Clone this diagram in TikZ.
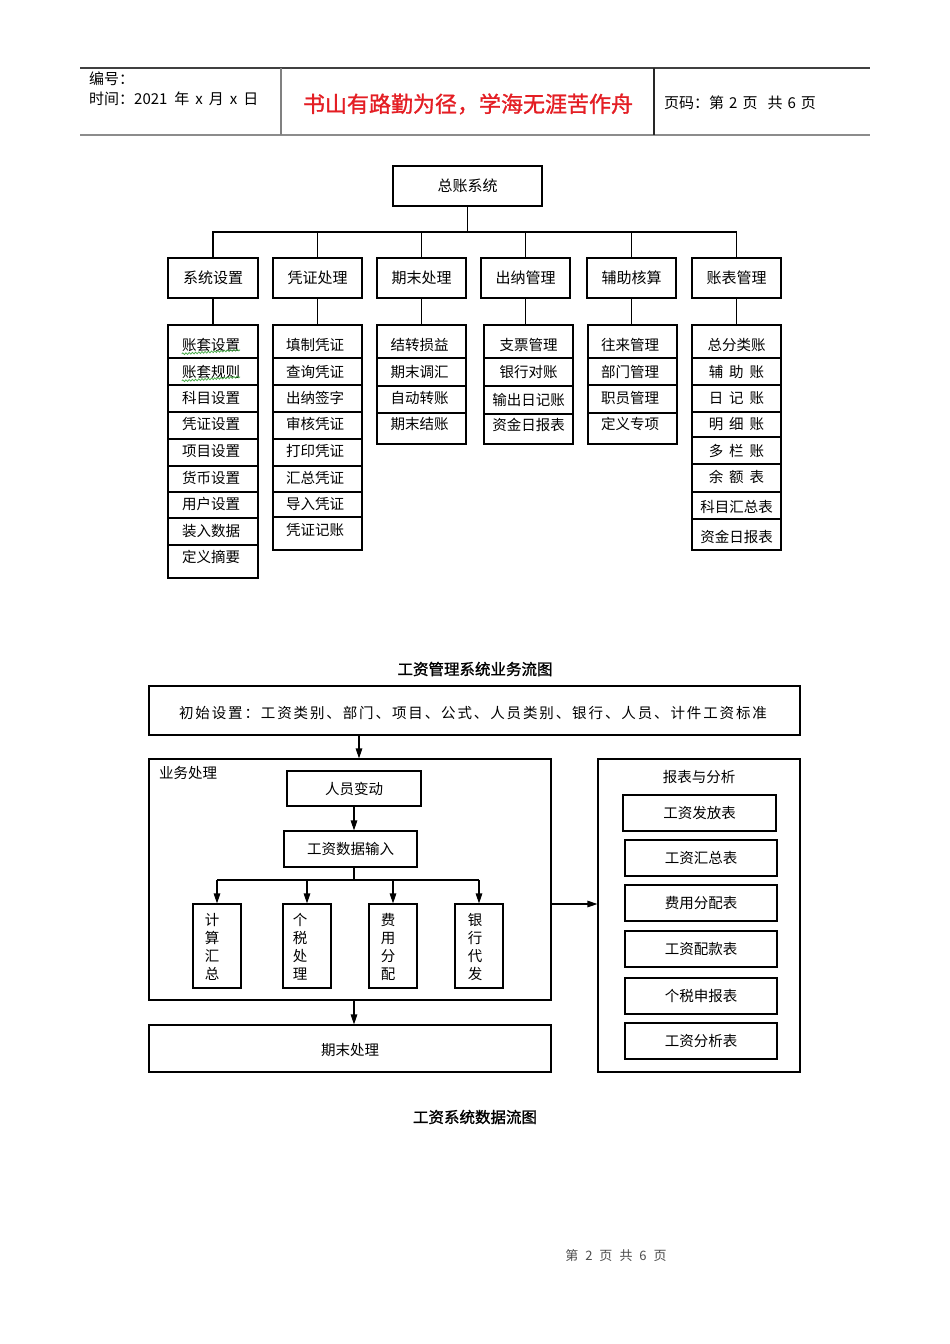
\documentclass[tikz,border=0pt]{standalone}
\usepackage{fontspec}
\setmainfont{Noto Sans CJK SC}
\newfontfamily\boldcjk[FakeBold=1.2]{Noto Sans CJK SC}
\newfontfamily\widecjk[LetterSpace=13]{Noto Sans CJK SC}
\usetikzlibrary{arrows.meta,decorations.pathmorphing}
\definecolor{redtxt}{RGB}{228,30,36}
\definecolor{squig}{RGB}{70,170,70}
\tikzset{
  box/.style={draw, line width=1.1pt, inner sep=0pt, font=\fontsize{15}{18}\selectfont},
  ln/.style={line width=1.1pt},
  arr/.style={line width=1.1pt, -{Triangle[length=10pt,width=6.5pt]}},
  txt/.style={inner sep=0pt, font=\fontsize{14.5}{18}\selectfont},
  ttl/.style={inner sep=0pt, font=\boldcjk\fontsize{15.5}{18}\selectfont},
  sep/.style={line width=1.1pt},
  wavy/.style={squig, line width=0.7pt, decorate, decoration={snake, amplitude=0.9pt, segment length=3.2pt}},
}
\begin{document}
\begin{tikzpicture}[x=1pt,y=-1pt]
\useasboundingbox (0,0) rectangle (950,1344);
\fill[white] (0,0) rectangle (950,1344);

% ---------- header ----------
\draw[line width=1.3pt, black!75] (80,68) -- (870,68);
\draw[line width=2pt, black!45] (80,135) -- (870,135);
\draw[line width=1.2pt, black!50] (281,68) -- (281,135);
\draw[line width=1.2pt, black!85] (654,68) -- (654,135);
\node[txt, anchor=west, font=\fontsize{15}{18}\selectfont] (hno) at (89,79) {编号：};
\node[txt, anchor=west, font=\fontsize{15}{18}\selectfont] (htime) at (89,99) {时间：2021\hspace{7pt}年\hspace{6pt}x\hspace{6pt}月\hspace{6pt}x\hspace{6pt}日};
\node[inner sep=0pt, text=redtxt, font=\boldcjk\fontsize{22}{25}\selectfont] (hmotto) at (468,104) {书山有路勤为径，学海无涯苦作舟};
\node[txt, anchor=west, font=\fontsize{15}{18}\selectfont] (hpage) at (664,103) {页码：第\hspace{5pt}2\hspace{5pt}页\hspace{10pt}共\hspace{5pt}6\hspace{5pt}页};

% ---------- ledger tree ----------
\node[box, minimum width=149pt, minimum height=40pt] (root) at (467.5,186) {总账系统};
\node[box, minimum width=90pt, minimum height=40pt] (la) at (213,278) {系统设置};
\node[box, minimum width=89pt, minimum height=40pt] (lb) at (317.5,278) {凭证处理};
\node[box, minimum width=89pt, minimum height=40pt] (lc) at (421.5,278) {期末处理};
\node[box, minimum width=89pt, minimum height=40pt] (ld) at (525.5,278) {出纳管理};
\node[box, minimum width=89pt, minimum height=40pt] (le) at (631.5,278) {辅助核算};
\node[box, minimum width=89pt, minimum height=40pt] (lf) at (736.5,278) {账表管理};
\coordinate (bus) at (467.5,232);
\draw[ln] (root.south) -- (bus);
\draw[ln] (la.north) |- (bus) -| (lf.north);
\foreach \n in {lb,lc,ld,le} \draw[ln] (\n.north) -- (\n.north |- bus);

% list columns
\node[box, minimum width=90pt, minimum height=253pt] (ca) at (213,451.5) {};
\node[box, minimum width=89pt, minimum height=225pt] (cb) at (317.5,437.5) {};
\node[box, minimum width=89pt, minimum height=119pt] (cc) at (421.5,384.5) {};
\node[box, minimum width=89pt, minimum height=119pt] (cd) at (528.5,384.5) {};
\node[box, minimum width=89pt, minimum height=119pt] (ce) at (632.5,384.5) {};
\node[box, minimum width=89pt, minimum height=225pt] (cf) at (736.5,437.5) {};
\foreach \u/\l in {la/ca,lb/cb,lc/cc,ld/cd,le/ce,lf/cf}
  \draw[ln] (\u.south) -- (\u.south |- \l.north);

\foreach \y in {358,385,412,439,466,492,518,545} \draw[sep] (ca.west |- 0,\y) -- (ca.east |- 0,\y);
\foreach \y in {358,385,412,439,466,492,517} \draw[sep] (cb.west |- 0,\y) -- (cb.east |- 0,\y);
\foreach \y in {358,386,413} \draw[sep] (cc.west |- 0,\y) -- (cc.east |- 0,\y);
\foreach \y in {358,386,414} \draw[sep] (cd.west |- 0,\y) -- (cd.east |- 0,\y);
\foreach \y in {358,385,413} \draw[sep] (ce.west |- 0,\y) -- (ce.east |- 0,\y);
\foreach \y in {358,385,412,437,464,492,519} \draw[sep] (cf.west |- 0,\y) -- (cf.east |- 0,\y);

\foreach \t/\y [count=\i] in {账套设置/345,账套规则/372,科目设置/398,凭证设置/424,项目设置/451,货币设置/478,用户设置/504,装入数据/531,定义摘要/557}
  \node[txt] (ta\i) at (211,\y) {\t};
\foreach \t/\y [count=\i] in {填制凭证/345,查询凭证/372,出纳签字/398,审核凭证/424,打印凭证/451,汇总凭证/478,导入凭证/504,凭证记账/530}
  \node[txt] (tb\i) at (315,\y) {\t};
\foreach \t/\y [count=\i] in {结转损益/345,期末调汇/372,自动转账/398,期末结账/424}
  \node[txt] (tc\i) at (419.5,\y) {\t};
\foreach \t/\y [count=\i] in {支票管理/345,银行对账/372,输出日记账/400,资金日报表/425}
  \node[txt] (td\i) at (528.5,\y) {\t};
\foreach \t/\y [count=\i] in {往来管理/345,部门管理/372,职员管理/398,定义专项/424}
  \node[txt] (te\i) at (630,\y) {\t};
\foreach \t/\y [count=\i] in {总分类账/345,辅\hspace{6pt}助\hspace{6pt}账/372,日\hspace{6pt}记\hspace{6pt}账/398,明\hspace{6pt}细\hspace{6pt}账/424,多\hspace{6pt}栏\hspace{6pt}账/451,余\hspace{6pt}额\hspace{6pt}表/477,科目汇总表/507,资金日报表/537}
  \node[txt] (tf\i) at (736.5,\y) {\t};
\draw[wavy] (ta1.south west) ++(0,2) -- ([yshift=2pt]ta1.south east);
\draw[wavy] (ta2.south west) ++(0,2) -- ([yshift=2pt]ta2.south east);

% ---------- wage flow ----------
\node[ttl] (title1) at (475,669) {工资管理系统业务流图};
\node[box, minimum width=651pt, minimum height=49pt] (init) at (474.5,710.5) {};
\node[inner sep=0pt, font=\widecjk\fontsize{14.5}{18}\selectfont] (initt) at (473,713) {初始设置：工资类别、部门、项目、公式、人员类别、银行、人员、计件工资标准};
\node[box, minimum width=402pt, minimum height=241pt] (biz) at (350,879.5) {};
\node[txt, anchor=west] (bizt) at (159,773) {业务处理};
\draw[arr] (init.south -| 359,0) -- (biz.north -| 359,0);

\node[box, minimum width=134pt, minimum height=35pt, font=\fontsize{14.5}{18}\selectfont] (ryd) at (354,788.5) {人员变动};
\node[box, minimum width=133pt, minimum height=36pt, font=\fontsize{14.5}{18}\selectfont] (gzsr) at (350.5,849) {工资数据输入};
\draw[arr] (ryd.south -| 354,0) -- (gzsr.north -| 354,0);

\node[box, minimum width=48pt, minimum height=84pt] (v1) at (217,946) {};
\node[box, minimum width=48pt, minimum height=84pt] (v2) at (307,946) {};
\node[box, minimum width=48pt, minimum height=84pt] (v3) at (393,946) {};
\node[box, minimum width=48pt, minimum height=84pt] (v4) at (479,946) {};
\node[txt, align=center] (v1t) at (212,947) {计\\算\\汇\\总};
\node[txt, align=center] (v2t) at (300,947) {个\\税\\处\\理};
\node[txt, align=center] (v3t) at (388,947) {费\\用\\分\\配};
\node[txt, align=center] (v4t) at (475,947) {银\\行\\代\\发};
\coordinate (vbus) at (354,880);
\draw[ln] (gzsr.south -| vbus) -- (vbus);
\draw[ln] (v1.north |- vbus) -- (v4.north |- vbus);
\foreach \v in {v1,v2,v3,v4} \draw[arr] (\v.north |- vbus) -- (\v.north);

\node[box, minimum width=402pt, minimum height=47pt] (qm) at (350,1048.5) {};
\node[txt] (qmt) at (350,1050) {期末处理};
\draw[arr] (biz.south -| 354,0) -- (qm.north -| 354,0);

\node[box, minimum width=202pt, minimum height=313pt] (rep) at (699,915.5) {};
\node[txt] (rept) at (699,777) {报表与分析};
\draw[arr] (biz.east |- 0,904) -- (rep.west |- 0,904);
\node[box, minimum width=153pt, minimum height=36pt, font=\fontsize{14.5}{18}\selectfont] (r1) at (699.5,813) {工资发放表};
\node[box, minimum width=152pt, minimum height=36pt, font=\fontsize{14.5}{18}\selectfont] (r2) at (701,858) {工资汇总表};
\node[box, minimum width=152pt, minimum height=36pt, font=\fontsize{14.5}{18}\selectfont] (r3) at (701,903) {费用分配表};
\node[box, minimum width=152pt, minimum height=36pt, font=\fontsize{14.5}{18}\selectfont] (r4) at (701,949) {工资配款表};
\node[box, minimum width=152pt, minimum height=36pt, font=\fontsize{14.5}{18}\selectfont] (r5) at (701,996) {个税申报表};
\node[box, minimum width=152pt, minimum height=36pt, font=\fontsize{14.5}{18}\selectfont] (r6) at (701,1041) {工资分析表};

\node[ttl] (title2) at (475,1117) {工资系统数据流图};

% ---------- footer ----------
\node[inner sep=0pt, text=black!70, font=\fontsize{13}{16}\selectfont] (foot) at (616,1256) {第\hspace{7pt}2\hspace{7pt}页\hspace{7pt}共\hspace{7pt}6\hspace{7pt}页};
\end{tikzpicture}
\end{document}
